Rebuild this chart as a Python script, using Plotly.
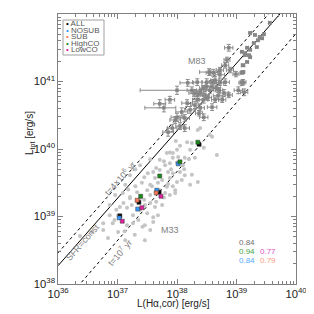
import plotly.graph_objects as go
import numpy as np

# ---------------- data (log10 values) ----------------
m83_logx = [39.56, 39.23, 39.31, 39.39, 39.36, 39.46, 39.43, 39.29, 39.34, 38.87,
            39.18, 39.23, 39.09, 39.14, 39.23, 39.18, 39.11, 39.11, 39.09, 39.21,
            39.14, 38.81, 38.89, 38.84, 38.72, 38.61, 38.50, 38.61, 38.72, 38.81,
            39.11, 38.54, 38.34, 38.64, 38.59, 38.71, 38.79, 38.87, 39.09, 39.13,
            38.00, 38.29, 38.34, 38.45, 37.78, 38.39, 38.59, 38.37, 38.00, 38.13,
            38.45, 38.17, 38.25, 38.18, 38.55, 38.47, 38.52, 38.64, 38.69, 38.76,
            38.55, 38.44, 38.35, 38.22, 38.30, 38.08, 37.92, 38.05, 37.85, 38.13,
            37.97, 37.71, 37.88, 38.39, 38.49, 38.67, 38.72, 38.99, 39.03]
m83_logy = [41.87, 41.72, 41.69, 41.66, 41.61, 41.70, 41.64, 41.57, 41.51, 41.50,
            41.50, 41.47, 41.44, 41.39, 41.36, 41.29, 41.24, 41.14, 41.13, 41.39,
            41.42, 41.24, 41.17, 41.32, 41.10, 41.13, 40.99, 40.99, 40.98, 40.99,
            40.99, 41.14, 40.99, 41.02, 40.92, 40.87, 40.83, 40.80, 40.98, 40.84,
            40.87, 40.83, 40.73, 40.73, 40.61, 40.61, 40.62, 40.53, 40.47, 40.46,
            40.47, 40.68, 40.87, 40.98, 41.13, 40.80, 40.76, 40.73, 40.79, 40.73,
            40.87, 40.90, 40.80, 40.58, 40.65, 40.55, 40.31, 40.34, 40.25, 40.31,
            40.43, 40.67, 40.73, 40.84, 40.93, 40.90, 41.17, 41.11, 40.87]
# error bars in dex
m83_xerr_minus = [0.02, 0.02, 0.02, 0.02, 0.02, 0.02, 0.02, 0.02, 0.02, 0.07,
                  0.02, 0.02, 0.02, 0.02, 0.02, 0.02, 0.03, 0.03, 0.03, 0.02,
                  0.02, 0.06, 0.06, 0.05, 0.08, 0.08, 0.08, 0.06, 0.06, 0.07,
                  0.05, 0.16, 0.08, 0.07, 0.08, 0.06, 0.07, 0.06, 0.05, 0.06,
                  0.62, 0.09, 0.08, 0.07, 0.32, 0.07, 0.08, 0.06, 0.10, 0.08,
                  0.07, 0.09, 0.08, 0.13, 0.06, 0.07, 0.06, 0.06, 0.08, 0.06,
                  0.07, 0.06, 0.08, 0.09, 0.07, 0.10, 0.08, 0.07, 0.09, 0.08,
                  0.09, 0.10, 0.08, 0.06, 0.07, 0.06, 0.06, 0.05, 0.07]
m83_xerr_plus = [0.02, 0.02, 0.02, 0.02, 0.02, 0.02, 0.02, 0.02, 0.02, 0.07,
                 0.02, 0.02, 0.02, 0.02, 0.02, 0.02, 0.03, 0.03, 0.03, 0.02,
                 0.02, 0.06, 0.06, 0.05, 0.08, 0.08, 0.08, 0.06, 0.06, 0.07,
                 0.05, 0.10, 0.08, 0.07, 0.08, 0.06, 0.07, 0.06, 0.05, 0.06,
                 0.39, 0.09, 0.08, 0.07, 0.20, 0.07, 0.08, 0.06, 0.10, 0.08,
                 0.07, 0.09, 0.08, 0.10, 0.06, 0.07, 0.06, 0.06, 0.08, 0.06,
                 0.07, 0.06, 0.08, 0.09, 0.07, 0.10, 0.08, 0.07, 0.09, 0.08,
                 0.09, 0.10, 0.08, 0.06, 0.07, 0.06, 0.06, 0.05, 0.07]
m83_yerr = [0.01, 0.01, 0.01, 0.01, 0.01, 0.01, 0.01, 0.01, 0.01, 0.05,
            0.01, 0.01, 0.01, 0.01, 0.01, 0.01, 0.02, 0.02, 0.02, 0.01,
            0.01, 0.04, 0.04, 0.04, 0.05, 0.05, 0.05, 0.04, 0.04, 0.05,
            0.04, 0.05, 0.05, 0.05, 0.05, 0.04, 0.05, 0.04, 0.04, 0.05,
            0.06, 0.05, 0.05, 0.05, 0.06, 0.05, 0.05, 0.04, 0.06, 0.05,
            0.05, 0.05, 0.05, 0.05, 0.04, 0.05, 0.04, 0.04, 0.05, 0.04,
            0.05, 0.04, 0.05, 0.05, 0.05, 0.06, 0.05, 0.05, 0.06, 0.05,
            0.05, 0.06, 0.05, 0.04, 0.05, 0.04, 0.04, 0.04, 0.05]

m33_logx = [38.17, 38.25, 38.39, 38.67, 37.83, 37.93, 38.02, 37.93, 37.80, 37.88,
            38.13, 38.30, 38.10, 37.71, 37.85, 37.93, 38.05, 37.75, 37.88, 38.00,
            38.08, 38.35, 37.83, 37.97, 37.80, 37.88, 37.97, 37.51, 37.60, 37.41,
            37.50, 37.33, 37.38, 37.21, 37.09, 37.21, 36.87, 37.04, 37.16, 37.24,
            37.55, 37.63, 36.87, 37.26, 37.50, 37.60, 36.76, 36.92, 37.16, 37.26,
            36.76, 37.46, 37.55, 37.68, 37.75, 37.46, 37.29, 37.13, 37.01, 36.84,
            36.57, 36.37, 37.38, 37.21, 37.13, 36.96, 37.55, 37.63, 37.71, 38.35,
            38.39, 38.55, 38.59, 38.00, 38.22, 37.46, 37.38, 37.01, 37.71, 38.13,
            38.22, 37.55, 37.45, 37.65, 37.78, 37.90, 38.00, 38.12, 37.68, 37.58,
            37.85, 37.93, 37.78, 37.45, 37.30, 37.18, 37.10, 36.98, 36.95, 37.35,
            37.42, 37.60, 37.12, 38.20, 38.45, 38.05, 37.98, 37.55, 37.30, 37.65,
            38.25, 37.88]
m33_logy = [40.10, 40.09, 40.06, 39.91, 39.94, 39.94, 39.88, 39.87, 39.76, 39.79,
            39.87, 39.87, 39.76, 39.69, 39.66, 39.64, 39.66, 39.54, 39.57, 39.51,
            39.54, 39.51, 39.44, 39.39, 39.35, 39.32, 39.35, 39.64, 39.66, 39.50,
            39.39, 39.36, 39.27, 39.27, 39.35, 39.29, 39.17, 39.14, 39.13, 39.17,
            39.20, 39.14, 39.02, 39.02, 39.05, 38.99, 38.90, 38.90, 38.87, 38.90,
            38.80, 38.87, 38.80, 39.02, 39.17, 38.65, 38.73, 38.65, 38.77, 38.68,
            38.77, 38.71, 39.76, 39.61, 39.47, 39.32, 39.47, 39.57, 39.84, 40.28,
            40.31, 40.21, 40.18, 39.99, 39.99, 39.17, 39.10, 39.02, 39.39, 39.61,
            39.47, 39.32, 39.58, 39.72, 39.82, 39.70, 39.80, 39.70, 39.50, 39.45,
            39.48, 39.45, 39.28, 39.25, 39.45, 39.40, 39.20, 39.10, 38.95, 38.95,
            38.85, 38.92, 38.78, 39.85, 40.02, 40.05, 40.12, 39.85, 39.70, 39.22,
            39.62, 39.95]

groups = ["ALL", "NOSUB", "SUB", "HighCO", "LowCO"]
group_colors = {"ALL": "#000000", "NOSUB": "#3399ff", "SUB": "#ff7755",
                "HighCO": "#1a8a1a", "LowCO": "#e0209f"}
sel_logx = {"ALL":    [37.04, 37.36, 37.70, 38.37],
            "NOSUB":  [37.03, 37.34, 37.66, 38.02],
            "SUB":    [37.33, 37.65],
            "HighCO": [37.39, 37.71, 38.05, 38.35],
            "LowCO":  [37.08, 37.41, 37.73]}
sel_logy = {"ALL":    [39.01, 39.21, 39.36, 40.07],
            "NOSUB":  [38.98, 39.11, 39.39, 39.78],
            "SUB":    [39.24, 39.35],
            "HighCO": [39.30, 39.60, 39.81, 40.10],
            "LowCO":  [38.93, 39.13, 39.30]}

# model lines: log L_tot = slope * (log L_Ha - x0) + y0
line_models = {
    "t=4e6": dict(x0=36.0, y0=38.46, slope=1.0, dash="3px,3px"),
    "SFR":   dict(x0=36.0, y0=38.27, slope=1.0, dash="solid"),
    "t=1e7": dict(x0=36.37, y0=38.0, slope=1.022, dash="3px,3px"),
}

corr_texts = [("0.84", "#707070", 0.0, 0), ("0.94", "#44a044", 0.0, 1),
              ("0.77", "#e050c8", 1.0, 1), ("0.84", "#55aaff", 0.0, 2),
              ("0.79", "#ff9a80", 1.0, 2)]

# ---------------- figure ----------------
fig = go.Figure()

def errs(lv, dm, dp):
    v = np.power(10.0, lv)
    return v * (np.power(10.0, dp) - 1), v * (1 - np.power(10.0, -np.array(dm)))

# model lines
lx = np.linspace(36, 40, 50)
for k, m in line_models.items():
    ly = m["y0"] + m["slope"] * (lx - m["x0"])
    fig.add_trace(go.Scatter(x=10 ** lx, y=10 ** ly, mode="lines",
                             line=dict(color="black", width=1, dash=m["dash"]),
                             showlegend=False, hoverinfo="skip"))

# M33
fig.add_trace(go.Scatter(x=10 ** np.array(m33_logx), y=10 ** np.array(m33_logy),
                         mode="markers", showlegend=False,
                         marker=dict(color="#c4c4c4", size=4, symbol="circle")))

# M83 with error bars
xp, xm = errs(np.array(m83_logx), m83_xerr_minus, np.array(m83_xerr_plus))
yp, ym = errs(np.array(m83_logy), m83_yerr, np.array(m83_yerr))
fig.add_trace(go.Scatter(x=10 ** np.array(m83_logx), y=10 ** np.array(m83_logy),
                         mode="markers", showlegend=False,
                         marker=dict(color="#858585", size=3.5, symbol="square"),
                         error_x=dict(type="data", symmetric=False, array=xp, arrayminus=xm,
                                      color="#8a8a8a", thickness=1, width=2),
                         error_y=dict(type="data", symmetric=False, array=yp, arrayminus=ym,
                                      color="#8a8a8a", thickness=1, width=2)))

# selected colored points
for g in groups:
    fig.add_trace(go.Scatter(x=10 ** np.array(sel_logx[g]), y=10 ** np.array(sel_logy[g]),
                             mode="markers", showlegend=False,
                             marker=dict(color=group_colors[g], size=4, symbol="square",
                                         line=dict(color="#333333", width=0.5))))

annotations = []
grey = "#808080"
txtfont = "Liberation Sans, Arial, sans-serif"
# line labels
annotations.append(dict(x=36.42, y=38.62, xref="x", yref="y", text="SFR=const",
                        showarrow=False, textangle=-48.6,
                        font=dict(size=9, color=grey, family=txtfont)))
annotations.append(dict(x=37.04, y=39.57, xref="x", yref="y", text="t=4×10<sup>6</sup> yr",
                        showarrow=False, textangle=-48.6,
                        font=dict(size=9, color=grey, family=txtfont)))
annotations.append(dict(x=37.04, y=38.47, xref="x", yref="y", text="t=10<sup>7</sup> yr",
                        showarrow=False, textangle=-49,
                        font=dict(size=9, color=grey, family=txtfont)))
annotations.append(dict(x=38.34, y=41.31, xref="x", yref="y", text="M83",
                        showarrow=False, font=dict(size=9, color=grey, family=txtfont)))
annotations.append(dict(x=37.88, y=38.80, xref="x", yref="y", text="M33",
                        showarrow=False, font=dict(size=9, color=grey, family=txtfont)))

# correlation numbers
for t, c, col, row in corr_texts:
    annotations.append(dict(x=(237 + col * 21 - 58) / 238, y=1 - (242 + row * 9 - 14) / 270,
                            xref="paper", yref="paper", xanchor="left", yanchor="middle",
                            text=t, showarrow=False,
                            font=dict(size=8, color=c, family=txtfont)))

# legend (drawn manually)
for i, g in enumerate(groups):
    yy = 1 - (24 + i * 6.4 - 14) / 270
    annotations.append(dict(x=(65 - 58) / 238, y=yy, xref="paper", yref="paper",
                            xanchor="left", yanchor="middle", showarrow=False, borderpad=0,
                            text="<span style='color:%s'>•</span> %s" % (group_colors[g], g),
                            font=dict(size=8, color="#555555", family=txtfont)))

# axis titles
annotations.append(dict(x=-36 / 238, y=1 - (133 - 14) / 270, xref="paper", yref="paper",
                        text="L<sub>tot</sub> [erg/s]", textangle=-90, showarrow=False,
                        font=dict(size=10, color="#222222", family=txtfont)))
annotations.append(dict(x=(173.5 - 58) / 238, y=-(303 - 284) / 270, xref="paper", yref="paper",
                        text="L(Hα,cor) [erg/s]", showarrow=False, yanchor="middle",
                        font=dict(size=10, color="#222222", family=txtfont)))

shapes = [dict(type="rect", xref="paper", yref="paper",
               x0=(63 - 58) / 238, x1=(104 - 58) / 238,
               y0=1 - (55 - 14) / 270, y1=1 - (20 - 14) / 270,
               line=dict(color="#a0a0a0", width=1))]

axis_common = dict(type="log", dtick=1, exponentformat="power", showgrid=False,
                   zeroline=False, showline=True, linecolor="#808080", linewidth=1.3,
                   mirror="allticks", ticks="inside", ticklen=5, tickcolor="#808080",
                   automargin=False,
                   tickfont=dict(size=9, color="#222222", family=txtfont),
                   minor=dict(ticks="inside", ticklen=2.5, tickcolor="#808080",
                              dtick="D1", showgrid=False))

# the page body adds an 8px offset; margins are set so the plot lands where the reference has it
fig.update_layout(
    width=314, height=314,
    margin=dict(l=50, r=26, t=6, b=38),
    paper_bgcolor="white", plot_bgcolor="white",
    showlegend=False,
    xaxis=dict(range=[36, 40], **axis_common),
    yaxis=dict(range=[38, 42], **axis_common),
    annotations=annotations, shapes=shapes,
)

fig.write_html("out.html")
